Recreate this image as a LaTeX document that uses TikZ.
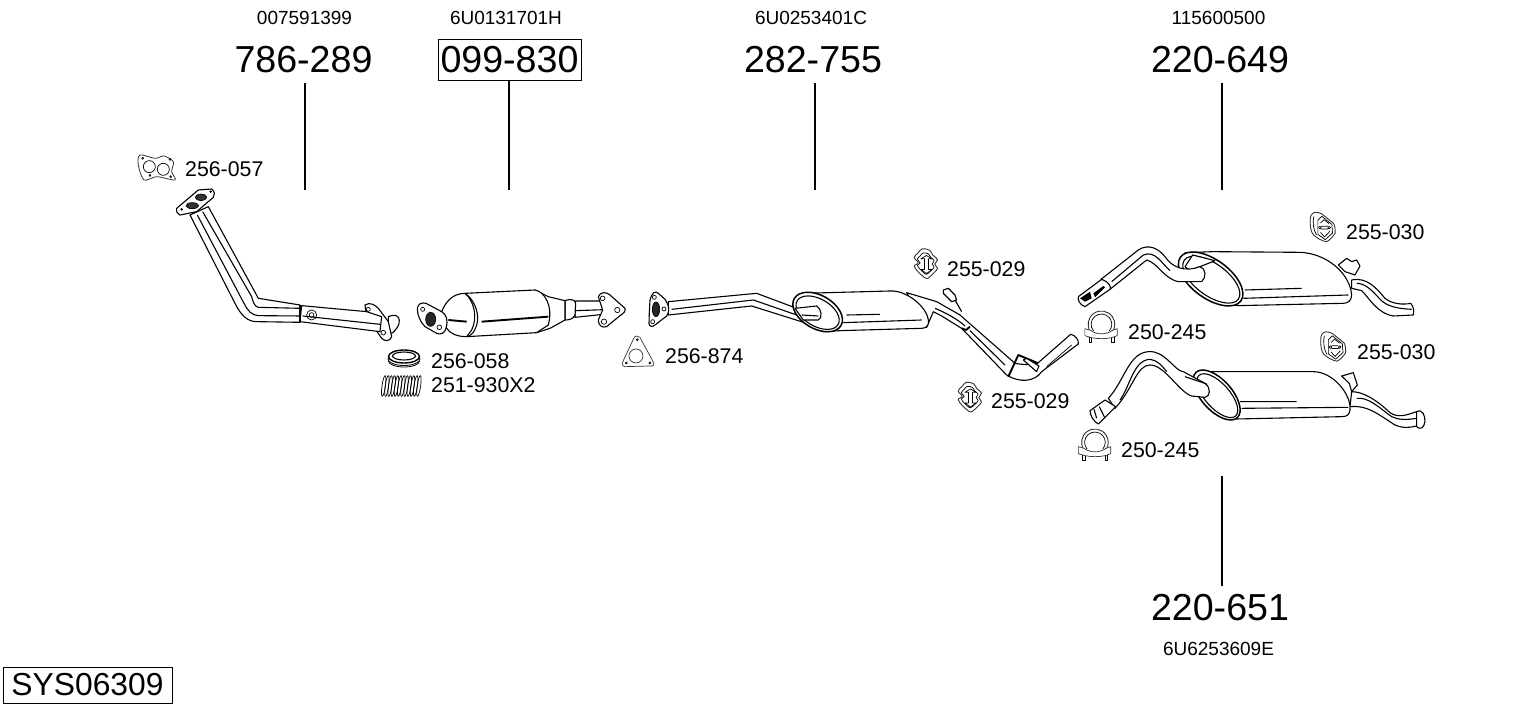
\documentclass[tikz,border=0pt]{standalone}
\usepackage{fontspec}
\setmainfont{Liberation Sans}
\usetikzlibrary{positioning}
\tikzset{
  bignum/.style={font=\fontsize{37.6}{40}\selectfont,inner sep=2pt,minimum height=41pt},
  refnum/.style={font=\fontsize{19}{21}\selectfont,inner sep=0pt},
  partnum/.style={font=\fontsize{21.3}{24}\selectfont,inner sep=0pt,anchor=west},
  leader/.style={line width=1.1pt},
  part/.style={draw,fill=white,line width=1.1pt,line join=round},
  edge/.style={line width=1.1pt,line join=round},
  fine/.style={line width=.7pt,line join=round},
  heavy/.style={line width=1.9pt,line join=round},
  gasket/.style={draw,fill=white,line width=.7pt,line join=round,draw=black!80},
  mountA/.pic={
    \draw[gasket,line width=.9pt] plot[smooth cycle,tension=.6] coordinates {(-10,-44) (12,-40) (22,-25) (36,-12) (28,2) (36,15) (25,28) (5,45) (-8,38) (-22,25) (-34,8) (-22,-2) (-34,-18) (-22,-32)};
    \draw[fine,scale=.72] plot[smooth cycle,tension=.6] coordinates {(-10,-44) (12,-40) (22,-25) (36,-12) (28,2) (36,15) (25,28) (5,45) (-8,38) (-22,25) (-34,8) (-22,-2) (-34,-18) (-22,-32)};
    \draw[fine] (-14,-14) -- (3,-24) -- (20,-14) -- (9,-14) -- (9,18) -- (20,18) -- (3,30) -- (-14,18) -- (-3,18) -- (-3,-14) -- cycle;
  },
  mountB/.pic={
    \draw[gasket,line width=.9pt] (-37,-16) .. controls (-38,-35) and (-32,-42) .. (-22,-44) .. controls (-14,-45) and (-8,-42) .. (-2,-39) -- (33,-11) .. controls (37,-6) and (38,5) .. (38,19) .. controls (30,30) and (20,42) .. (11,44) .. controls (0,42) and (-15,35) .. (-27,24) .. controls (-35,15) and (-37,0) .. (-37,-16) -- cycle;
    \draw[fine] (-2,-32) -- (28,-8) -- (30,18) -- (8,38) -- (-14,22) -- (-14,-20) -- cycle;
    \draw[fine] (-26,-32) .. controls (-30,-15) and (-28,8) .. (-18,24);
    \draw[fine] (-6,-12) -- (4,-22) -- (20,-10) (-6,16) -- (6,30) -- (22,13);
    \draw[fine] (-8,2) circle (4) (20,2) circle (4) (-4,-2) -- (16,-2) (-4,6) -- (16,6);
  },
  clamp/.pic={
    \draw[gasket,line width=.9pt] (-33,15) arc [start angle=145,end angle=395,radius=40];
    \draw[fine] (-24,12) arc [start angle=140,end angle=400,radius=31];
    \draw[gasket] (-50,5) -- (-33,10) .. controls (-15,24) and (15,24) .. (33,10) -- (47,5) -- (47,26) -- (30,32) .. controls (10,36) and (-10,36) .. (-30,32) -- (-50,26) -- cycle;
    \draw[fine] (-38,31) -- (-38,47) -- (-30,47) -- (-30,32) (30,32) -- (30,47) -- (38,47) -- (38,31);
  }
}
\begin{document}
\begin{tikzpicture}[x=1pt,y=-1pt]
\useasboundingbox (0,0) rectangle (1530,711);
% numbers and leaders
\node[bignum] (num786) at (303.5,60) {786-289};
\node[bignum,draw,line width=.9pt,minimum width=143pt] (num099) at (509.5,59.5) {099-830};
\node[bignum] (num282) at (813,60) {282-755};
\node[bignum] (num649) at (1220,60) {220-649};
\node[bignum] (num651) at (1220,607.5) {220-651};
\node[refnum] (ref786) at (304.5,18) {007591399};
\node[refnum] (ref099) at (506,18) {6U0131701H};
\node[refnum] (ref282) at (811,18) {6U0253401C};
\node[refnum] (ref649) at (1218.5,18) {115600500};
\node[refnum] (ref651) at (1218.5,649) {6U6253609E};
\node[font=\fontsize{31.8}{34}\selectfont,draw,line width=.9pt,minimum width=169pt,minimum height=36pt,inner sep=0pt] (sysnum) at (87.5,685) {SYS06309};
\coordinate (end786) at (305,190);
\coordinate (end099) at (509,190);
\coordinate (end282) at (815,190);
\coordinate (end649) at (1222,190);
\coordinate (end651) at (1222,476);
\draw[leader] (end786 |- num786.south) ++(0,2) -- (end786);
\draw[leader] (end099 |- num099.south) -- (end099);
\draw[leader] (end282 |- num282.south) ++(0,2) -- (end282);
\draw[leader] (end649 |- num649.south) ++(0,2) -- (end649);
\draw[leader] (end651 |- num651.north) ++(0,-1) -- (end651);
\node[partnum] (lab057) at (185,169) {256-057};
\node[partnum] (lab058) at (431,361) {256-058};
\node[partnum] (lab930) at (431,385.5) {251-930X2};
\node[partnum] (lab874) at (665,356) {256-874};
\node[partnum] (lab029a) at (947,269) {255-029};
\node[partnum] (lab029b) at (991,401) {255-029};
\node[partnum] (lab030a) at (1346,232) {255-030};
\node[partnum] (lab030b) at (1357,352) {255-030};
\node[partnum] (lab245a) at (1128,332) {250-245};
\node[partnum] (lab245b) at (1121,450) {250-245};
% small parts
\pic[scale=.3333] at (925.5,263.5) {mountA};
\pic[scale=.3333] at (969.5,397) {mountA};
\pic[scale=.3333] at (1322.5,227) {mountB};
\pic[scale=.3333] at (1333,346.5) {mountB};
\pic[scale=.3333] at (1101.5,327) {clamp};
\pic[scale=.3333] at (1095,445) {clamp};
% front pipe
\begin{scope}[shift={(120,140)},scale=.3333]
\draw[gasket,line width=.8pt] plot[smooth cycle,tension=.5] coordinates {(60,45) (105,55) (132,48) (160,65) (155,95) (165,120) (110,110) (72,120) (55,75)};
\draw[fine] (88,80) circle (18) (130,88) circle (18);
\draw[fine] (68,55) circle (3) (150,58) circle (3) (90,106) circle (3) (152,110) circle (3);
\draw[part] (210,225) -- (345,490) .. controls (365,530) and (385,545) .. (410,545) -- (540,547) -- (540,495) -- (415,475) -- (265,200) -- cycle;
\draw[edge] (232,225) -- (372,490) .. controls (385,515) and (395,525) .. (415,527) -- (540,528);
\draw[edge] (248,215) -- (395,470) .. controls (400,490) and (405,500) .. (415,502) -- (540,505);
\draw[part] (805,530) .. controls (840,515) and (845,545) .. (830,565) .. controls (820,580) and (810,585) .. (805,575) -- cycle;
\draw[part] (735,495) .. controls (750,485) and (765,495) .. (775,505) -- (805,545) -- (815,590) .. controls (810,605) and (795,605) .. (785,595) -- (740,530) -- cycle;
\draw[part] (545,497) -- (740,515) -- (785,530) -- (780,575) -- (540,545) -- cycle;
\draw[edge] (548,528) -- (780,553);
\draw[fine] (575,525) circle (15) (575,525) circle (7);
\draw[heavy] (540,495) -- (540,547);
\draw[fine] (745,508) circle (6) (790,578) circle (7);
\draw[part] (170,205) -- (235,150) -- (275,147) .. controls (285,155) and (285,165) .. (280,172) -- (230,215) -- (180,225) .. controls (172,222) and (168,215) .. (170,205) -- cycle;
\draw[fine,fill=black!80] (217,197) ellipse [x radius=19,y radius=9] (243,172) ellipse [x radius=17,y radius=10];
\draw[fill=black] (185,208) circle (3) (272,155) circle (3);
\end{scope}
% converter and gaskets
\begin{scope}[shift={(410,270)},scale=.3333]
\draw[part] (495,93) -- (610,93) -- (610,130) -- (495,142) -- cycle;
\draw[edge] (497,122) -- (610,118);
\draw[part] (565,80) .. controls (570,65) and (590,65) .. (600,75) -- (645,115) .. controls (648,125) and (640,130) .. (630,137) -- (590,170) .. controls (575,175) and (565,165) .. (565,150) -- (578,120) -- cycle;
\draw[fine] (578,85) circle (7) (622,120) circle (8) (582,155) circle (8);
\draw[part] (465,92) .. controls (485,85) and (495,90) .. (497,100) -- (495,135) .. controls (490,148) and (475,150) .. (465,150) -- cycle;
\draw[part] (375,60) -- (415,80) -- (465,92) -- (465,150) -- (420,175) -- (380,188) -- cycle;
\draw[part] (165,70) -- (375,60) .. controls (405,65) and (430,110) .. (415,165) -- (380,188) -- (170,200) .. controls (195,180) and (210,120) .. (165,70) -- cycle;
\draw[part] (95,125) .. controls (105,100) and (125,70) .. (165,70) .. controls (195,90) and (215,140) .. (195,178) .. controls (190,190) and (180,198) .. (170,200) .. controls (140,200) and (120,190) .. (110,175) -- cycle;
\draw[edge] (165,70) .. controls (190,90) and (205,140) .. (185,180) -- (170,200);
\draw[heavy] (115,150) -- (170,155) (215,155) -- (415,140);
\draw[part] (22,115) .. controls (25,100) and (35,97) .. (48,100) -- (95,125) .. controls (110,135) and (115,150) .. (108,175) .. controls (105,190) and (90,195) .. (80,190) -- (45,170) .. controls (30,155) and (22,135) .. (22,115) -- cycle;
\draw[fine] (38,118) circle (6) (88,172) circle (7);
\draw[fine,fill=black!85] (62,148) ellipse [x radius=15,y radius=21];
\draw[gasket] (680,198) .. controls (690,198) and (692,205) .. (695,212) -- (728,272) .. controls (735,285) and (730,290) .. (720,288) -- (645,290) .. controls (635,288) and (635,280) .. (640,272) -- (668,212) .. controls (672,202) and (675,198) .. (680,198) -- cycle;
\draw[gasket] (678,258) circle (21);
\draw[fine] (682,209) circle (3) (720,279) circle (3) (649,279) circle (3);
\end{scope}
% intermediate silencer
\begin{scope}[shift={(640,240)},scale=.3333]
\draw[part] (85,185) -- (350,160) -- (470,205) -- (500,250) -- (335,198) -- (85,225) -- cycle;
\draw[edge] (95,208) -- (340,180) -- (470,225);
\draw[part] (860,262) -- (880,215) -- (905,228) -- (965,265) -- (1100,405) .. controls (1140,430) and (1185,425) .. (1205,395) -- (1315,312) .. controls (1318,300) and (1305,285) .. (1292,283) -- (1195,368) .. controls (1180,375) and (1150,375) .. (1125,370) -- (960,225) -- (890,185) -- (800,158) -- cycle;
\draw[edge] (885,205) .. controls (910,215) and (950,235) .. (975,258);
\draw[edge] (990,272) -- (1095,375);
\draw[fine] (1220,380) -- (1295,315);
\draw[part] (910,150) -- (925,145) -- (945,165) -- (950,180) -- (935,185) -- (910,160) -- cycle;
\draw[edge] (945,180) -- (965,215);
\draw[heavy] (965,265) -- (978,270) -- (990,260);
\draw[part] (490,160) -- (750,153) .. controls (800,150) and (860,200) .. (865,240) .. controls (868,255) and (860,265) .. (845,265) -- (600,272) -- (550,275) -- cycle;
\draw[edge] (610,248) -- (845,240) (620,225) -- (720,223);
\draw[part,line width=1.5pt] (533,216) ellipse [x radius=81,y radius=50,rotate=-30];
\draw[edge] (533,218) ellipse [x radius=71,y radius=41,rotate=-30];
\draw[part] (465,205) -- (530,198) .. controls (545,205) and (548,235) .. (535,240) -- (490,240) -- cycle;
\draw[edge] (485,225) -- (535,228);
\draw[heavy] (1105,410) -- (1135,345) -- (1195,370);
\draw[part] (1150,360) -- (1160,355) -- (1197,378) -- (1190,395) -- cycle;
\draw[part] (30,180) .. controls (35,160) and (45,150) .. (55,160) -- (75,178) .. controls (88,195) and (90,215) .. (80,228) -- (45,255) .. controls (35,262) and (28,260) .. (27,250) -- (28,215) -- cycle;
\draw[fine,fill=black!85] (48,208) ellipse [x radius=11,y radius=22];
\draw[fine] (43,172) circle (6) (72,207) circle (6) (38,245) circle (6);
\end{scope}
% rear silencer upper
\begin{scope}[shift={(1070,200)},scale=.3333]
\draw[part] (845,240) .. controls (890,230) and (920,265) .. (945,295) .. controls (965,312) and (1000,315) .. (1022,310) .. controls (1032,320) and (1032,335) .. (1030,345) -- (970,348) .. controls (920,340) and (895,290) .. (875,272) -- (845,265) -- cycle;
\draw[edge] (860,250) .. controls (885,250) and (905,270) .. (925,292) .. controls (940,310) and (960,325) .. (1025,328);
\draw[part] (805,195) -- (830,175) -- (845,185) -- (860,180) -- (870,198) -- (855,225) -- (825,215) -- cycle;
\draw[part] (345,158) -- (430,155) -- (690,157) .. controls (770,160) and (840,220) .. (845,285) .. controls (845,300) and (835,310) .. (820,310) -- (500,317) -- (450,300) -- cycle;
\draw[edge] (525,270) -- (695,265) (520,295) -- (835,285);
\draw[part,line width=1.5pt] (422,237) ellipse [x radius=112,y radius=58,rotate=-36];
\draw[edge] (424,239) ellipse [x radius=100,y radius=48,rotate=-36];
\draw[part] (345,200) -- (368,165) -- (435,182) -- (360,212) -- cycle;
\draw[part] (93,238) -- (205,150) .. controls (235,130) and (265,145) .. (285,170) .. controls (305,200) and (340,218) .. (390,200) .. controls (408,205) and (410,232) .. (395,245) -- (325,245) .. controls (280,235) and (265,190) .. (230,180) -- (120,268) -- cycle;
\draw[edge] (125,245) -- (220,165) .. controls (255,150) and (275,190) .. (300,212);
\draw[part] (25,290) -- (95,238) .. controls (115,245) and (125,260) .. (120,268) -- (45,320) .. controls (30,315) and (22,300) .. (25,290) -- cycle;
\fill (30,295) -- (60,275) -- (65,295) -- (45,305) -- cycle (70,280) -- (100,258) -- (105,262) -- (75,292) -- cycle;
\end{scope}
% rear silencer lower
\begin{scope}[shift={(1070,320)},scale=.3333]
\draw[part] (845,215) .. controls (880,215) and (920,240) .. (960,278) .. controls (985,295) and (1010,285) .. (1040,275) -- (1040,318) .. controls (1010,325) and (985,325) .. (960,305) .. controls (920,280) and (890,255) .. (840,260) -- cycle;
\draw[edge] (860,235) .. controls (895,230) and (930,265) .. (965,290) .. controls (985,300) and (1010,300) .. (1040,295);
\draw[part] (1040,275) .. controls (1060,265) and (1065,290) .. (1065,305) .. controls (1062,325) and (1050,330) .. (1040,320) -- cycle;
\draw[part] (815,168) -- (850,158) -- (862,195) -- (845,215) -- (838,190) -- cycle;
\draw[part] (385,155) -- (730,155) .. controls (790,155) and (845,225) .. (840,270) .. controls (838,285) and (830,290) .. (815,290) -- (500,297) -- (440,280) -- cycle;
\draw[edge] (510,245) -- (680,245) (515,265) -- (835,262);
\draw[part,line width=1.5pt] (440,225) ellipse [x radius=92,y radius=46,rotate=-48];
\draw[edge] (442,227) ellipse [x radius=82,y radius=37,rotate=-48];
\draw[part] (115,235) .. controls (165,180) and (175,100) .. (235,95) .. controls (285,90) and (315,155) .. (340,155) -- (405,190) .. controls (425,205) and (420,230) .. (405,232) -- (365,228) .. controls (325,215) and (285,135) .. (240,135) .. controls (200,135) and (190,205) .. (135,265) -- cycle;
\draw[edge] (150,240) .. controls (180,200) and (190,120) .. (240,118) .. controls (260,120) and (275,135) .. (290,155);
\draw[edge] (345,170) -- (410,192);
\draw[part] (60,272) -- (105,240) -- (137,260) -- (85,312) .. controls (70,305) and (60,285) .. (60,272) -- cycle;
\draw[edge] (72,268) -- (80,295) (88,260) -- (105,295);
\end{scope}
% ring and spring
\draw[part,line width=.8pt] (404,361) ellipse [x radius=15.5,y radius=6];
\draw[part,line width=.8pt] (404,359) ellipse [x radius=16,y radius=6.5];
\draw[part,line width=1.4pt] (404,356.5) ellipse [x radius=15.5,y radius=6.5];
\draw[edge] (404,356) ellipse [x radius=11.5,y radius=4];
\foreach \k in {0,...,11} {
  \draw[fine] ({383.7+\k*3.2},386) ellipse [x radius=1.7,y radius=10.5,rotate=-8];
}
\end{tikzpicture}
\end{document}
